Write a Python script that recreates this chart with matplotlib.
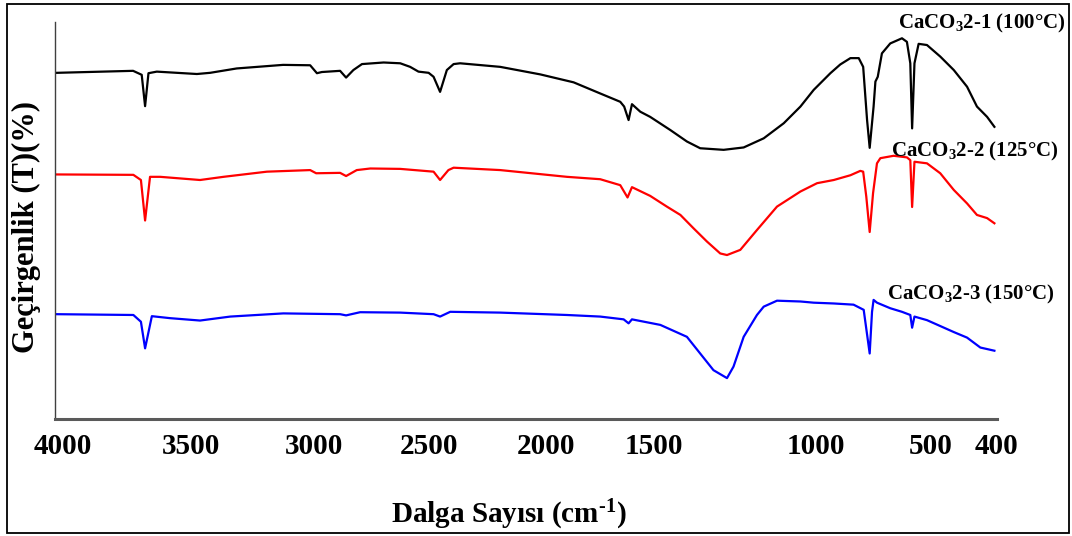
import matplotlib
matplotlib.use('Agg')
import matplotlib.pyplot as plt
from matplotlib.patches import Rectangle

plt.rcParams['font.family'] = ['Liberation Serif', 'DejaVu Serif']
plt.rcParams['font.weight'] = 'bold'
plt.rcParams['mathtext.fontset'] = 'custom'
plt.rcParams['mathtext.rm'] = 'Liberation Serif:bold'
plt.rcParams['mathtext.bf'] = 'Liberation Serif:bold'
plt.rcParams['mathtext.default'] = 'bf'

# FTIR spectra, wavenumber (cm-1) vs transmittance (arbitrary, offset)
wn_1 = [4000, 3708, 3675, 3662, 3649, 3617, 3463, 3412, 3310, 3132, 3028, 3002, 2983,
        2913, 2890, 2862, 2829, 2746, 2682, 2644, 2612, 2573, 2554, 2529, 2503, 2477,
        2452, 2298, 2144, 2016, 1914, 1837, 1822, 1805, 1792, 1760, 1722, 1645, 1581,
        1530, 1440, 1363, 1286, 1209, 1145, 1094, 1030, 992, 953, 921, 904, 889, 879,
        864, 857, 848, 832, 800, 755, 736, 723, 716, 707, 691, 659, 608, 556, 505,
        467, 428, 400]
t_1 = [87.2, 87.7, 86.7, 78.8, 87.1, 87.5, 86.9, 87.2, 88.3, 89.2, 89.1, 87.1, 87.4,
       87.7, 86.0, 87.9, 89.4, 89.8, 89.6, 88.7, 87.5, 87.2, 86.2, 82.4, 87.9, 89.4,
       89.6, 88.7, 86.8, 84.8, 82.0, 79.9, 78.7, 75.3, 79.3, 77.4, 76.1, 72.8, 69.9,
       68.2, 67.8, 68.4, 70.7, 74.5, 78.7, 82.9, 87.1, 89.3, 90.9, 90.9, 88.7, 75.3, 68.3,
       78.7, 85.0, 86.2, 92.1, 94.6, 95.9, 95.0, 89.6, 73.2, 89.6, 94.5, 94.2, 91.3, 87.9, 83.7,
       78.7, 76.1, 73.6]

wn_2 = [4000, 3707, 3678, 3662, 3643, 3604, 3451, 3361, 3194, 3028, 3005, 2913, 2890,
        2849, 2797, 2682, 2554, 2529, 2497, 2477, 2298, 2042, 1914, 1837, 1809, 1792,
        1722, 1658, 1606, 1555, 1504, 1453, 1427, 1376, 1312, 1235, 1145, 1081, 1017,
        953, 915, 904, 892, 879, 866, 851, 838, 787, 736, 723, 716, 707, 659, 608, 556,
        505, 467, 428, 400]
t_2 = [61.6, 61.5, 60.2, 50.0, 61.0, 61.0, 60.2, 61.0, 62.3, 62.7, 61.9, 62.0, 61.2,
       62.7, 63.1, 63.0, 62.3, 60.2, 62.7, 63.3, 62.7, 61.0, 60.4, 58.9, 55.8, 58.4,
       56.2, 53.5, 51.4, 48.0, 44.7, 41.7, 41.3, 42.6, 47.6, 53.5, 57.3, 59.4, 60.2,
       61.4, 62.5, 62.3, 56.0, 47.1, 56.9, 64.4, 65.7, 66.3, 65.9, 65.2, 53.4, 64.8, 64.4,
       61.9, 57.7, 54.3, 51.4, 50.6, 49.3]

wn_3 = [4000, 3707, 3678, 3662, 3636, 3566, 3451, 3335, 3131, 2913, 2890, 2836, 2682,
        2554, 2529, 2490, 2298, 2042, 1914, 1824, 1805, 1792, 1683, 1581, 1530, 1479,
        1427, 1402, 1363, 1312, 1286, 1235, 1145, 1094, 1017, 941, 902, 879, 870, 864,
        851, 800, 755, 723, 716, 707, 659, 556, 505, 454, 400]
t_3 = [26.4, 26.2, 24.5, 17.8, 25.9, 25.4, 24.8, 25.8, 26.6, 26.4, 26.1, 26.9, 26.8,
       26.4, 25.8, 27.0, 26.8, 26.2, 25.8, 25.1, 24.1, 25.1, 23.7, 20.7, 16.5, 12.3,
       10.3, 13.2, 20.7, 26.2, 28.3, 29.8, 29.6, 29.3, 29.1, 28.8, 27.5, 16.5, 27.0, 30.0,
       29.3, 27.9, 27.0, 26.2, 23.0, 25.8, 24.9, 21.9, 20.5, 18.0, 17.2]

names = ['CaCO$_3$2-1 (100°C)', 'CaCO$_3$2-2 (125°C)', 'CaCO$_3$2-3 (150°C)']
colors = ['black', '#ff0000', '#0000ff']

# tick labels sit where the original figure put them
tick_text = ['4000', '3500', '3000', '2500', '2000', '1500', '1000', '500', '400']
tick_at = [3977, 3485, 3013, 2571, 2121, 1706, 1084, 646, 392]

fig = plt.figure(figsize=(10.72, 5.36), dpi=100)
ax = fig.add_axes([55 / 1072, 117 / 536, 942 / 1072, 397 / 536])

ax.plot(wn_1, t_1, color=colors[0], lw=1.6)
ax.plot(wn_2, t_2, color=colors[1], lw=1.6)
ax.plot(wn_3, t_3, color=colors[2], lw=1.6)

ax.set_xlim(4008, 390)
ax.set_ylim(0, 100)
ax.set_xticks(tick_at)
ax.set_xticklabels(tick_text, fontsize=21, fontweight='bold')
ax.set_yticks([])
ax.tick_params(axis='x', length=0, pad=10)

ax.spines['top'].set_visible(False)
ax.spines['right'].set_visible(False)
ax.spines['left'].set_color('#404040')
ax.spines['left'].set_linewidth(1)
ax.spines['bottom'].set_color('#5a5a5a')
ax.spines['bottom'].set_linewidth(2.2)

fig.text(509 / 1072, (536 - 523) / 536, r'Dalga Sayısı (cm$^{\text{-}1}$)', fontsize=21,
         fontweight='bold', ha='center', va='baseline')
fig.text(26 / 1072, (536 - 227) / 536, 'Geçirgenlik (T)(%)', fontsize=22,
         fontweight='bold', rotation=90, ha='center', va='center')

fig.text(1066 / 1072, (536 - 23) / 536, names[0], fontsize=15, fontweight='bold',
         ha='right', va='center')
fig.text(1059 / 1072, (536 - 151) / 536, names[1], fontsize=15, fontweight='bold',
         ha='right', va='center')
fig.text(1055 / 1072, (536 - 294) / 536, names[2], fontsize=15, fontweight='bold',
         ha='right', va='center')

fig.patches.append(Rectangle((7 / 1072, 3 / 536), 1062 / 1072, 529 / 536,
                             transform=fig.transFigure, fill=False,
                             edgecolor='black', lw=1.3))

fig.savefig('out.png', dpi=100)
